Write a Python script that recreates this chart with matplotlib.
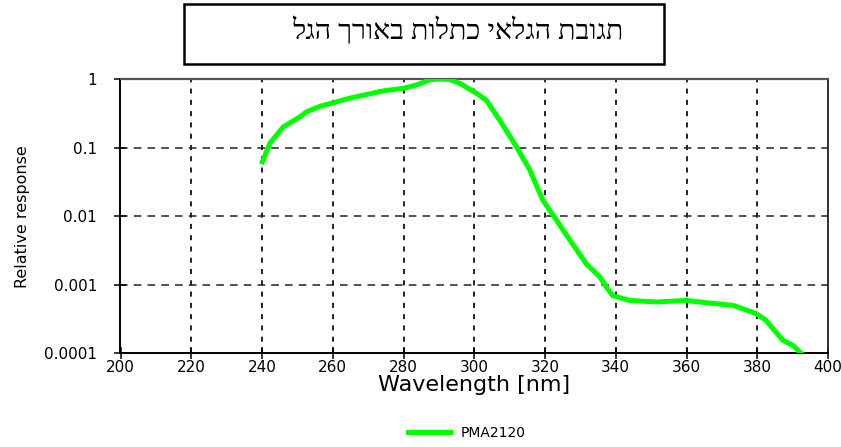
"""Relative spectral response of the PMA2120 detector (log scale)."""

import matplotlib
matplotlib.use("Agg")
import matplotlib.pyplot as plt
from matplotlib.patches import Rectangle
from matplotlib.ticker import NullLocator

# data
wavelength = [240.1, 242.2, 246.0, 250.7, 252.6, 256.4, 260.6, 264.5, 268.6, 274.2,
              277.0, 279.9, 283.7, 287.4, 290.3, 293.0, 295.9, 300.6, 303.4, 307.2,
              311.9, 315.7, 319.4, 322.3, 327.0, 331.7, 335.5, 337.5, 339.2, 343.9,
              351.5, 359.9, 366.5, 373.1, 379.7, 382.5, 387.2, 390.1, 392.4]
response = [0.062, 0.115, 0.20, 0.28, 0.333, 0.40, 0.457, 0.52, 0.58, 0.67,
            0.70, 0.73, 0.82, 0.97, 1.0, 0.98, 0.865, 0.62, 0.49, 0.25,
            0.103, 0.047, 0.017, 0.0103, 0.0045, 0.0020, 0.0013, 0.0009, 0.00069, 0.00059,
            0.00056, 0.00059, 0.00054, 0.0005, 0.00038, 0.0003, 0.000155, 0.00013, 0.0001]
series_name = "PMA2120"

x_ticks = [200, 220, 240, 260, 280, 300, 320, 340, 360, 380, 400]
y_ticks = [1e-4, 1e-3, 1e-2, 1e-1, 1]
y_tick_labels = ["0.0001", "0.001", "0.01", "0.1", "1"]

title_he = "תגובת הגלאי כתלות באורך הגל"
x_label = "Wavelength [nm]"
y_label = "Relative response"

W, H = 841, 447
fig = plt.figure(figsize=(W / 100, H / 100), dpi=100)
ax = fig.add_axes([120.5 / W, 1 - 353.3 / H, (828 - 120.5) / W, (353.3 - 79) / H])

ax.plot(wavelength, response, color="#00ff00", lw=3.6, label=series_name, zorder=3)
ax.set_yscale("log")
ax.set_xlim(200, 400)
ax.set_ylim(1e-4, 1)
ax.set_xticks(x_ticks)
ax.set_yticks(y_ticks)
ax.set_yticklabels(y_tick_labels)
ax.yaxis.set_minor_locator(NullLocator())

ax.set_axisbelow(True)
ax.xaxis.grid(True, color="#222222", lw=1.4, linestyle=(0, (2.6, 3.2)))
ax.yaxis.grid(True, color="#222222", lw=1.1, linestyle=(0, (5.0, 4.0)))
# grid lines on the frame edges would double the spines
for ticks in (ax.xaxis.get_major_ticks(), ax.yaxis.get_major_ticks()):
    ticks[0].gridline.set_visible(False)
    ticks[-1].gridline.set_visible(False)

for side in ("left", "bottom"):
    ax.spines[side].set_color("black")
    ax.spines[side].set_linewidth(1.4)
ax.spines["top"].set_color("#555555")
ax.spines["top"].set_linewidth(1.6)
ax.spines["right"].set_color("#222222")
ax.spines["right"].set_linewidth(1.3)

ax.tick_params(direction="inout", length=8, width=1.1, colors="black",
               labelsize=11)
ax.tick_params(axis="x", pad=1)
ax.tick_params(axis="y", pad=13)
for lab in ax.get_xticklabels() + ax.get_yticklabels():
    lab.set_family("DejaVu Sans")

ax.set_xlabel(x_label, fontsize=16, family="DejaVu Sans", labelpad=0)
ax.set_ylabel(y_label, fontsize=11.5, family="DejaVu Sans", labelpad=10)

# title box
fig.patches.append(Rectangle((184 / W, 1 - 64 / H), (664 - 184) / W, 60 / H,
                             transform=fig.transFigure, fill=False,
                             edgecolor="black", lw=1.8))
# matplotlib has no bidi support: reverse the string for right-to-left display
fig.text(623 / W, 1 - 31 / H, title_he[::-1], ha="right", va="center",
         fontsize=20.5, family=["Liberation Serif", "DejaVu Sans"])

fig.legend(loc="center", bbox_to_anchor=(467 / W, 1 - 433 / H), frameon=False,
           prop={"family": "DejaVu Sans", "size": 10}, handlelength=3.0,
           handletextpad=0.8)

fig.savefig("out.png", dpi=100)
